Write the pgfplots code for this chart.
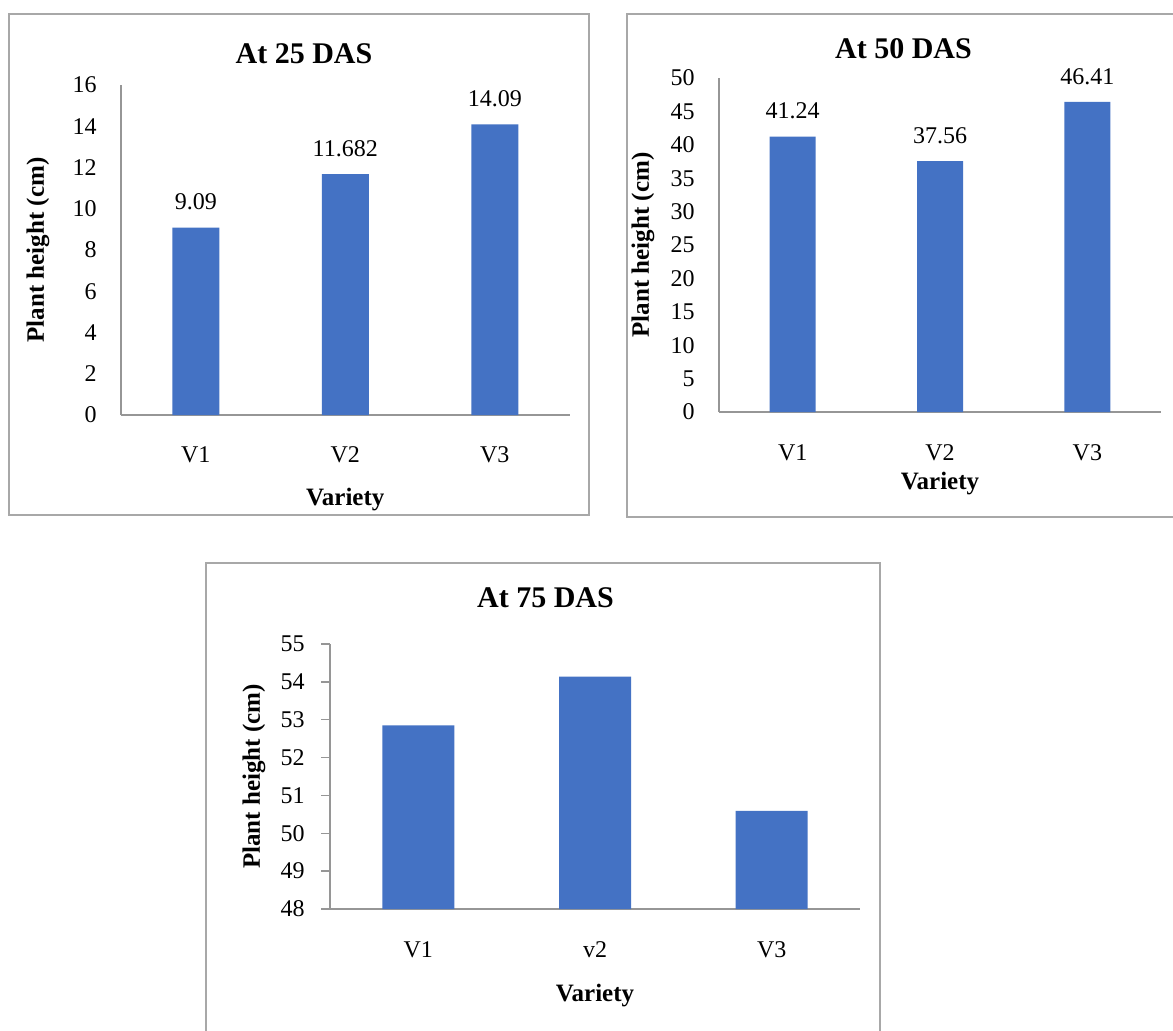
\documentclass[border=0pt]{standalone}
\usepackage{fontspec}
\setmainfont{Liberation Serif}
\usepackage{pgfplots}
\pgfplotsset{compat=1.18}

\definecolor{barblue}{HTML}{4472C4}
\definecolor{axisgray}{RGB}{150,150,150}
\definecolor{framegray}{RGB}{168,168,168}

\pgfplotsset{
  dasplot/.style={
    ybar,
    scale only axis,
    axis lines*=left,
    axis line style={axisgray, line width=0.75pt},
    xmin=-0.5, xmax=2.5,
    xtick={0,1,2},
    /pgf/number format/assume math mode=true,
    tick label style={font=\fontsize{12}{14}\selectfont},
    yticklabel style={anchor=east, inner sep=0pt, xshift=-12pt},
    xticklabel style={anchor=base, inner sep=0pt, yshift=-19.5pt},
    major x tick style={draw=none},
    major y tick style={draw=none},
    ylabel={Plant height (cm)},
    xlabel={Variety},
    every axis x label/.style={at={(axis description cs:0.5,0)}, anchor=base,
      font=\fontsize{12.5}{14}\selectfont\bfseries},
    every axis y label/.style={at={(axis description cs:0,0.5)}, anchor=center, rotate=90,
      font=\fontsize{12.5}{14}\selectfont\bfseries},
    clip=false,
  },
  barlabels/.style={
    nodes near coords,
    point meta=explicit symbolic,
    every node near coord/.append style={font=\fontsize{12}{14}\selectfont, inner sep=0pt, yshift=8.6pt, text=black},
  },
}

\begin{document}
\begin{tikzpicture}
\useasboundingbox (0,0) rectangle (586.5pt,515pt);
\fill[white] (0,0) rectangle (586.5pt,515pt);

% chart frames
\draw[framegray, line width=1pt] (4.5pt,257.5pt) rectangle (294.5pt,508pt);
\draw[framegray, line width=1pt] (590pt,256.5pt) -- (313.5pt,256.5pt) -- (313.5pt,508pt) -- (590pt,508pt);
\draw[framegray, line width=1pt] (103pt,-2pt) -- (103pt,233.5pt) -- (440pt,233.5pt) -- (440pt,-2pt);

% chart titles
\node[font=\fontsize{15}{17}\selectfont\bfseries] at (152pt,488pt) {At 25 DAS};
\node[font=\fontsize{15}{17}\selectfont\bfseries] at (451.75pt,490.5pt) {At 50 DAS};
\node[font=\fontsize{15}{17}\selectfont\bfseries] at (272.75pt,216pt) {At 75 DAS};

% At 25 DAS
\begin{axis}[dasplot,
  at={(60.5pt,307.5pt)}, anchor=south west,
  width=224.25pt, height=165pt,
  ymin=0, ymax=16, ytick={0,2,...,16},
  xticklabels={V1,V2,V3},
  bar width=23.5pt,
  xlabel style={yshift=-45pt},
  ylabel style={yshift=41.5pt},
]
\addplot[fill=barblue, draw=none, barlabels] coordinates {
  (0,9.09) [9.09]
  (1,11.682) [11.682]
  (2,14.09) [14.09]
};
\end{axis}

% At 50 DAS
\begin{axis}[dasplot,
  at={(359.5pt,309pt)}, anchor=south west,
  width=221pt, height=167pt,
  ymin=0, ymax=50, ytick={0,5,...,50},
  xticklabels={V1,V2,V3},
  xticklabel style={yshift=-0.5pt},
  bar width=23pt,
  xlabel style={yshift=-38.5pt},
  ylabel style={yshift=38pt},
]
\addplot[fill=barblue, draw=none, barlabels] coordinates {
  (0,41.24) [41.24]
  (1,37.56) [37.56]
  (2,46.41) [46.41]
};
\end{axis}

% At 75 DAS
\begin{axis}[dasplot,
  at={(165pt,60.5pt)}, anchor=south west,
  width=265pt, height=132.5pt,
  ymin=48, ymax=55, ytick={48,49,...,55},
  xticklabels={V1,v2,V3},
  yticklabel style={xshift=4pt},
  bar width=36pt,
  major y tick style={draw=axisgray, line width=0.75pt},
  ytick align=outside, major tick length=4.5pt,
  xlabel style={yshift=-46pt},
  ylabel style={yshift=38pt},
]
\addplot[fill=barblue, draw=none] coordinates {
  (0,52.85)
  (1,54.14)
  (2,50.59)
};
\end{axis}
\end{tikzpicture}
\end{document}
